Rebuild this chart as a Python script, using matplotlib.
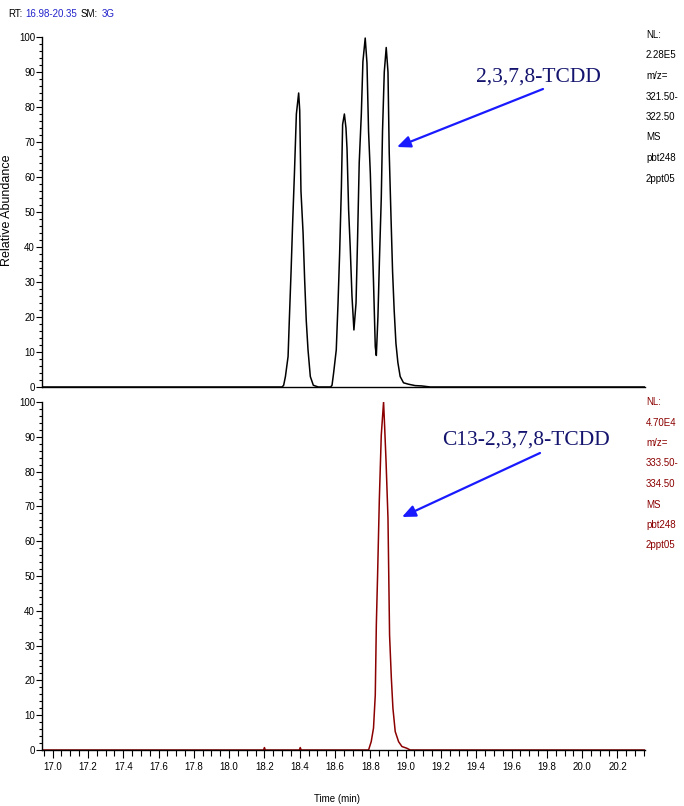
import matplotlib
matplotlib.use("Agg")
import matplotlib.pyplot as plt
from matplotlib.ticker import MultipleLocator, FixedLocator

# ---- data ----
top_time = [16.94, 18.300, 18.309, 18.319, 18.334, 18.341, 18.351, 18.360, 18.370, 18.381,
            18.394, 18.400, 18.407, 18.419, 18.428, 18.437, 18.447, 18.460, 18.477, 18.505,
            18.575, 18.583, 18.592, 18.607, 18.617, 18.626, 18.636, 18.643, 18.653, 18.662,
            18.668, 18.677, 18.686, 18.696, 18.707, 18.719, 18.728, 18.737, 18.749, 18.758,
            18.771, 18.781, 18.790, 18.800, 18.809, 18.818, 18.828, 18.834, 18.843, 18.852,
            18.862, 18.869, 18.879, 18.890, 18.900, 18.907, 18.917, 18.926, 18.935, 18.945,
            18.956, 18.969, 18.988, 19.016, 19.054, 19.092, 19.140, 20.36]
top_intensity = [0, 0, 0.5, 3, 8.7, 19, 33, 47, 61, 78,
                 84, 79, 56, 44, 30.5, 19, 10.6, 3, 0.5, 0,
                 0, 0.5, 4, 10.6, 24, 38, 57, 75, 78, 74,
                 68, 50.6, 40, 26, 16.3, 24, 43, 64, 78, 93,
                 99.7, 92.5, 73, 61, 45, 30, 11.5, 9, 20, 37,
                 54, 73, 90, 97, 90, 67, 48.7, 33, 22, 12.5,
                 7, 3, 1.2, 0.8, 0.4, 0.3, 0, 0]

bottom_time = [16.94, 18.195, 18.200, 18.205, 18.398, 18.403, 18.408, 18.790, 18.805, 18.818,
               18.828, 18.834, 18.841, 18.851, 18.862, 18.875, 18.881, 18.889, 18.900, 18.909,
               18.919, 18.928, 18.941, 18.960, 18.979, 19.007, 19.026, 20.36]
bottom_intensity = [0, 0, 0.7, 0, 0, 0.7, 0, 0, 2.4, 6.3,
                    15.8, 36, 50, 72, 90.5, 100, 93, 83, 66.6, 33,
                    20.7, 12, 5.3, 2.4, 1, 0.5, 0, 0]

x_tick_values = [17.0, 17.2, 17.4, 17.6, 17.8, 18.0, 18.2, 18.4, 18.6, 18.8,
                 19.0, 19.2, 19.4, 19.6, 19.8, 20.0, 20.2]
y_tick_values = [0, 10, 20, 30, 40, 50, 60, 70, 80, 90, 100]

header_parts = ["RT:", "16.98-20.35", "SM:", "3G"]
top_info = ["NL:", "2.28E5", "m/z=", "321.50-", "322.50", "MS", "pbt248", "2ppt05"]
bottom_info = ["NL:", "4.70E4", "m/z=", "333.50-", "334.50", "MS", "pbt248", "2ppt05"]

top_label = "2,3,7,8-TCDD"
bottom_label = "C13-2,3,7,8-TCDD"

W, H = 684, 806
fig = plt.figure(figsize=(W / 100, H / 100), dpi=100)
fig.patch.set_facecolor("white")

SANS = ["Liberation Sans Narrow", "Liberation Sans", "DejaVu Sans"]
SERIF = ["Liberation Serif", "DejaVu Serif"]
TICKFS = 7


def fx(px):
    return px / W


def fy(py):
    return 1 - py / H


xlim = (16.94, 20.356)

ax1 = fig.add_axes([fx(42), fy(387), fx(645) - fx(42), fy(37) - fy(387)])
ax2 = fig.add_axes([fx(42), fy(750), fx(645) - fx(42), fy(402) - fy(750)])

ax1.plot(top_time, top_intensity, color="black", lw=1.1)
ax2.plot(bottom_time, bottom_intensity, color="#8b0000", lw=1.1)

for ax in (ax1, ax2):
    ax.set_xlim(*xlim)
    ax.set_ylim(0, 100)
    ax.spines["top"].set_visible(False)
    ax.spines["right"].set_visible(False)
    ax.spines["left"].set_linewidth(1.0)
    ax.spines["bottom"].set_linewidth(1.0)
    ax.yaxis.set_major_locator(FixedLocator(y_tick_values))
    ax.yaxis.set_minor_locator(MultipleLocator(2))
    ax.set_yticklabels([str(v) for v in y_tick_values], family=SANS, fontsize=TICKFS)
    ax.tick_params(axis="y", which="major", length=4, width=0.8, pad=1)
    ax.tick_params(axis="y", which="minor", length=2, width=0.8)
    ax.patch.set_alpha(0)

ax1.set_xticks([])
ax1.tick_params(axis="x", which="both", length=0)

ax2.xaxis.set_major_locator(FixedLocator(x_tick_values))
ax2.xaxis.set_minor_locator(MultipleLocator(0.05))
ax2.set_xticklabels([f"{v:.1f}" for v in x_tick_values], family=SANS, fontsize=TICKFS)
ax2.tick_params(axis="x", which="major", length=6, width=0.8, pad=3)
ax2.tick_params(axis="x", which="minor", length=4, width=0.8)
ax2.set_xlabel("Time (min)", family=SANS, fontsize=TICKFS, labelpad=8)
ax2.xaxis.set_label_coords(0.49, -0.125)

# y-axis label near the left edge
fig.text(fx(7), fy(210), "Relative Abundance", rotation=90, ha="center", va="center",
         family=SANS, fontsize=9)

# header, parts chained so they never overlap
colors = ["black", "#2222cc", "black", "#2222cc"]
anchor = fig.text(fx(8), fy(14), header_parts[0], family=SANS, fontsize=TICKFS,
                  color=colors[0], va="center")
for s, c in zip(header_parts[1:], colors[1:]):
    anchor = ax1.annotate(s, xy=(1, 0.5), xycoords=anchor, xytext=(2.5, 0),
                          textcoords="offset points", va="center", ha="left",
                          family=SANS, fontsize=TICKFS, color=c, annotation_clip=False)

# right-hand info text
for i, s in enumerate(top_info):
    fig.text(fx(646), fy(35 + i * 20.5), s, family=SANS, fontsize=TICKFS, color="black", va="center")
for i, s in enumerate(bottom_info):
    fig.text(fx(646), fy(402 + i * 20.5), s, family=SANS, fontsize=TICKFS, color="#8b0000", va="center")

# annotations
navy = "#14146e"
blue = "#1a1aff"
fig.text(fx(538), fy(77), top_label, family=SERIF, fontsize=15.5, color=navy, ha="center", va="center")
ax1.annotate("", xy=(fx(397), fy(147)), xycoords="figure fraction",
             xytext=(fx(543), fy(89)), textcoords="figure fraction",
             arrowprops=dict(arrowstyle="-|>,head_length=0.8,head_width=0.35", color=blue, lw=1.6,
                             shrinkA=0, shrinkB=0))
fig.text(fx(526), fy(440), bottom_label, family=SERIF, fontsize=15.5, color=navy, ha="center", va="center")
ax2.annotate("", xy=(fx(402), fy(517)), xycoords="figure fraction",
             xytext=(fx(540), fy(453)), textcoords="figure fraction",
             arrowprops=dict(arrowstyle="-|>,head_length=0.8,head_width=0.35", color=blue, lw=1.6,
                             shrinkA=0, shrinkB=0))

fig.savefig("out.png", dpi=100)
